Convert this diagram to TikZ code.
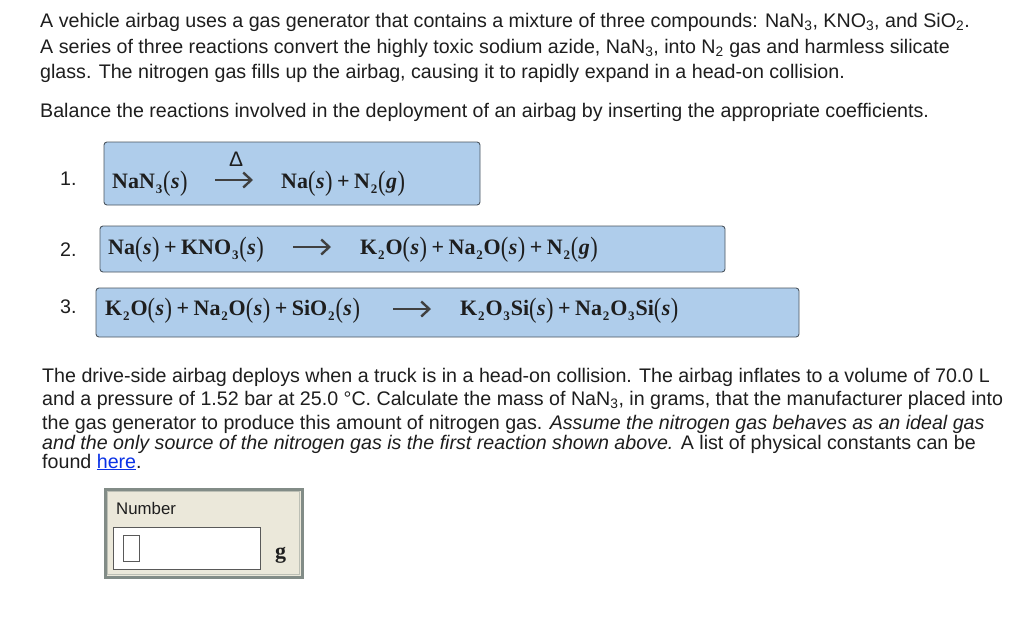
\documentclass[tikz,border=0pt]{standalone}
\usepackage{graphicx}
\usepackage{fontspec}
\setmainfont{Liberation Sans}
\newfontfamily\chemfont{Liberation Serif}
\usetikzlibrary{arrows.meta}
\definecolor{boxblue}{RGB}{175,205,235}
\definecolor{boxedge}{RGB}{75,85,95}
\definecolor{panelbg}{RGB}{235,232,218}
\definecolor{paneledge}{RGB}{130,140,135}
\definecolor{linkblue}{RGB}{10,50,230}
\definecolor{txt}{RGB}{30,30,30}
\newcommand{\chemparen}[1]{\raisebox{-2pt}{\scalebox{0.8}[1]{\fontsize{28}{28}\selectfont\mdseries #1}}}
\newcommand{\st}[1]{\chemparen{(}\kern0.5pt{\itshape #1}\kern0.5pt\chemparen{)}}
\newcommand{\chemsub}[1]{\kern0.8pt\raisebox{-5pt}{\fontsize{13}{13}\selectfont\bfseries #1}\kern0.9pt}
\newcommand{\pl}{\kern4.5pt+\kern4.5pt}
\tikzset{
  para/.style={anchor=base west,inner sep=0pt,font=\fontsize{19.65}{20}\selectfont,text=txt},
  chem/.style={anchor=base west,inner sep=0pt,font=\chemfont\bfseries\fontsize{22}{22}\selectfont,text=txt},
  rbox/.style={draw=boxedge,fill=boxblue,line width=0.9pt,rounded corners=3pt},
  rarrow/.style={draw=txt!85,line width=2.4pt,-{Straight Barb[length=8pt,width=15pt,line width=2.4pt]}}
}
\begin{document}
\begin{tikzpicture}[x=1pt,y=-1pt]
\useasboundingbox (0,0) rectangle (1024,625);
\fill[white] (0,0) rectangle (1024,625);
\node[para] (t1) at (40,27) {A vehicle airbag uses a gas generator that contains a mixture of three compounds: NaN\textsubscript{3}, KNO\textsubscript{3}, and SiO\textsubscript{2}.};
\node[para] (t2) at (40,53) {A series of three reactions convert the highly toxic sodium azide, NaN\textsubscript{3}, into N\textsubscript{2} gas and harmless silicate};
\node[para] (t3) at (40,78) {glass. The nitrogen gas fills up the airbag, causing it to rapidly expand in a head-on collision.};
\node[para] (t4) at (40,117) {Balance the reactions involved in the deployment of an airbag by inserting the appropriate coefficients.};
\node[para] (n1) at (60,185) {1.};
\node[para] (n2) at (60,256) {2.};
\node[para] (n3) at (60,313) {3.};
\draw[rbox] (104,142) rectangle (480,205);
\draw[rbox] (100,226) rectangle (725,272);
\draw[rbox] (96,288) rectangle (799,337);
\node[para,font=\fontsize{21}{21}\selectfont] (delta) at (229,166) {Δ};
\node[chem] (r1) at (112,188) {NaN\chemsub{3}\st{s}};
\coordinate (a1s) at (215,180);
\coordinate (a1e) at (253,180);
\draw[rarrow] (a1s) -- (a1e);
\node[chem] (p1) at (281,188) {Na\st{s}\pl N\chemsub{2}\st{g}};
\node[chem] (r2) at (108,254) {Na\st{s}\pl KNO\chemsub{3}\st{s}};
\coordinate (a2s) at (293,247);
\coordinate (a2e) at (331,247);
\draw[rarrow] (a2s) -- (a2e);
\node[chem] (p2) at (360,254) {K\chemsub{2}O\st{s}\pl Na\chemsub{2}O\st{s}\pl N\chemsub{2}\st{g}};
\node[chem] (r3) at (105,315) {K\chemsub{2}O\st{s}\pl Na\chemsub{2}O\st{s}\pl SiO\chemsub{2}\st{s}};
\coordinate (a3s) at (393,309);
\coordinate (a3e) at (431,309);
\draw[rarrow] (a3s) -- (a3e);
\node[chem] (p3) at (460,315) {K\chemsub{2}O\chemsub{3}Si\st{s}\pl Na\chemsub{2}O\chemsub{3}Si\st{s}};
\node[para] (b1) at (42,382) {The drive-side airbag deploys when a truck is in a head-on collision. The airbag inflates to a volume of 70.0 L};
\node[para] (b2) at (42,405) {and a pressure of 1.52 bar at 25.0 °C. Calculate the mass of NaN\textsubscript{3}, in grams, that the manufacturer placed into};
\node[para] (b3) at (42,429) {the gas generator to produce this amount of nitrogen gas. \textit{Assume the nitrogen gas behaves as an ideal gas}};
\node[para] (b4) at (42,449) {\textit{and the only source of the nitrogen gas is the first reaction shown above.} A list of physical constants can be};
\node[para] (b5) at (42,468) {found \textcolor{linkblue}{\underline{here}}.};
\draw[draw=paneledge,fill=panelbg,line width=3pt] (105,489) rectangle (302,577);
\draw[draw=paneledge!45!panelbg,line width=1pt] (107.5,491.5) rectangle (299.5,574.5);
\node[para,font=\fontsize{16.8}{18}\selectfont] (num) at (116,514) {Number};
\draw[draw=black!65,fill=white,line width=1pt] (113,527) rectangle (260,569);
\draw[draw=black!65,fill=white,line width=0.8pt] (123,535) rectangle (139,561);
\node[chem] (unit) at (275,558) {g};
\end{tikzpicture}
\end{document}
